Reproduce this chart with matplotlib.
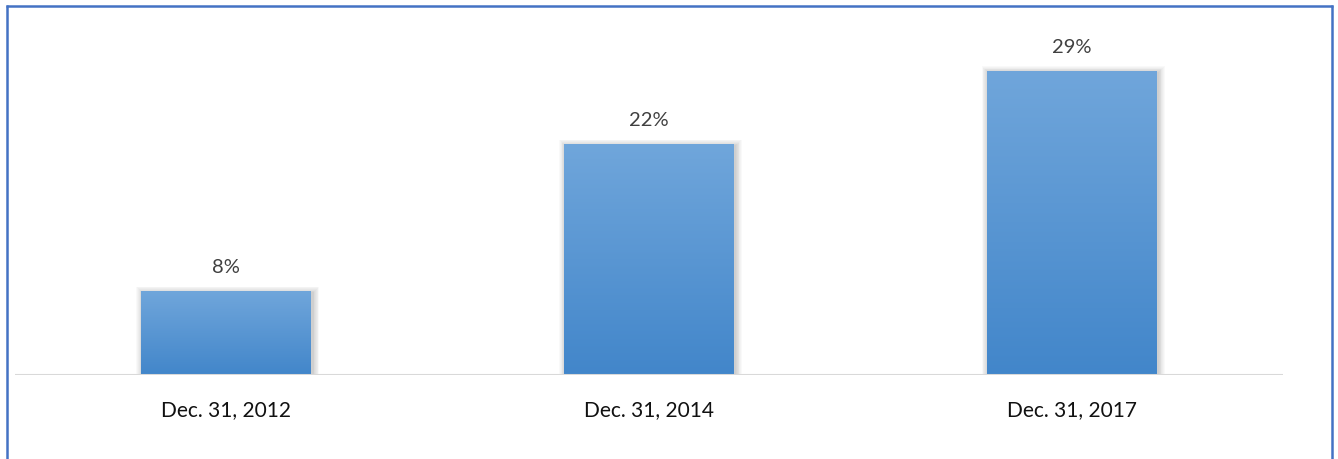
import numpy as np
import matplotlib
matplotlib.use("Agg")
import matplotlib.pyplot as plt
from matplotlib.lines import Line2D
from matplotlib.patches import Rectangle

categories = ["Dec. 31, 2012", "Dec. 31, 2014", "Dec. 31, 2017"]
values = [8, 22, 29]
value_labels = ["8%", "22%", "29%"]

W, H = 1338, 459
fig = plt.figure(figsize=(W / 100, H / 100), dpi=100)
plt.rcParams['font.family'] = ['Lato', 'DejaVu Sans']

# axes placed so the baseline sits at y=375px, plot spans x 15..1283
ax = fig.add_axes([15 / W, (H - 375) / H, 1268 / W, 370 / H])

x = np.arange(len(categories))
bw = 0.402
px = 3 / 1268          # one pixel in data x units
py = 1 / 10.5          # one pixel in data y units
top_c = np.array([112, 166, 219]) / 255
bot_c = np.array([66, 134, 202]) / 255
grad = np.linspace(0, 1, 256)[:, None, None]
img = top_c * (1 - grad) + bot_c * grad

for xi, v, lab in zip(x, values, value_labels):
    # soft shadow, a bit to the right
    for k in range(8):
        off = (8 - k) * 0.8
        ax.add_patch(Rectangle((xi - bw / 2 - off * px + 1.5 * px, 0),
                               bw + 2 * off * px, v + (off - 2) * py,
                               facecolor="black", alpha=0.022, edgecolor="none", zorder=2))
    bar = ax.bar(xi, v, width=bw, color="none", zorder=3)[0]
    im = ax.imshow(img, extent=(xi - bw / 2, xi + bw / 2, 0, v), aspect="auto", zorder=3)
    im.set_clip_path(bar)
    ax.text(xi, v + 2.2, lab, ha="center", va="center", fontsize=14.5, color="#404040")

ax.set_ylim(0, 370 / 10.5)
ax.set_xlim(-0.5, 2.5)
ax.axhline(0, color="#d9d9d9", lw=2.2, zorder=4)
for k in range(3):
    ax.axhline(-(k + 1.5) * py, color="black", lw=1, alpha=0.03, zorder=1)
ax.set_xticks(x)
ax.set_xticklabels(categories, fontsize=15, color="#111111")
ax.tick_params(axis="x", length=0, pad=18)
ax.set_yticks([])
for s in ax.spines.values():
    s.set_visible(False)

# blue chart frame
blue = "#4472c4"
fig.add_artist(Line2D([6 / W, 1333 / W], [1 - 5.5 / H, 1 - 5.5 / H], color=blue, lw=1.8,
                      solid_capstyle="butt"))
fig.add_artist(Line2D([7 / W, 7 / W], [1 - 5 / H, 0], color=blue, lw=1.8, solid_capstyle="butt"))
fig.add_artist(Line2D([1332 / W, 1332 / W], [1 - 5 / H, 0], color=blue, lw=1.8,
                      solid_capstyle="butt"))

fig.savefig("out.png", dpi=100)
